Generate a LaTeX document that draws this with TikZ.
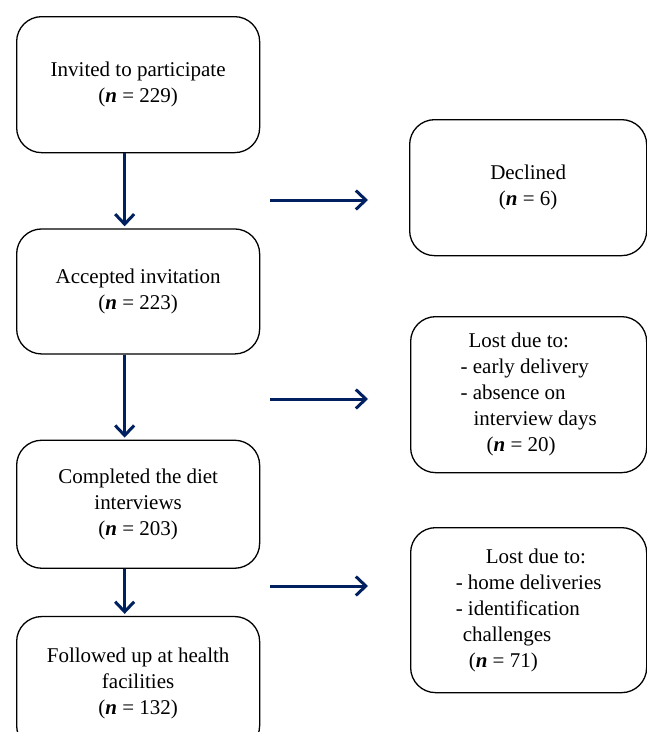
\documentclass[tikz,border=0pt]{standalone}
\usepackage{fontspec}
\setmainfont{Liberation Serif}
\usepackage{tikz}
\usetikzlibrary{positioning,arrows.meta}
\definecolor{mynavy}{RGB}{0, 32, 96}
\tikzstyle{stage}=[draw,rounded corners=25pt,line width=1.3pt,minimum width=243pt,inner sep=0pt,align=center]
\tikzstyle{lost}=[draw,rounded corners=25pt,line width=1.3pt,minimum width=236pt,inner sep=0pt,anchor=north west]
\newcommand{\nn}[1]{(\textbf{\textit{n}} = #1)}

\begin{document}
\begin{tikzpicture}[x=1pt,y=-1pt,font=\fontsize{21}{26}\selectfont]
\tikzstyle{flow}=[-{Straight Barb[length=10pt,width=19pt]},line width=3pt,mynavy]
\useasboundingbox (0,0) rectangle (647,732);
\node (A) [stage,anchor=north west,minimum height=136pt] at (16,16) {Invited to participate\\\nn{229}};
\node (B) [stage,below=75pt of A,minimum height=125pt] {Accepted invitation\\\nn{223}};
\node (C) [stage,below=85pt of B,minimum height=128pt] {Completed the diet\\interviews\\\nn{203}};
\node (D) [stage,below=47pt of C,minimum height=134pt] {Followed up at health\\facilities\\\nn{132}};

\node (E) [lost,align=center,minimum width=237pt,minimum height=136pt] at (409,119) {Declined\\\nn{6}};
\node (F) [lost,align=left,minimum height=156pt] at (410,316) {\hspace*{8pt}Lost due to:\\- early delivery\\- absence on\\\hspace*{13pt}interview days\\\hspace*{26pt}\nn{20}};
\node (G) [lost,align=left,minimum height=165pt] at (410,527) {\hspace*{30pt}Lost due to:\\- home deliveries\\- identification\\\hspace*{7pt}challenges\\\hspace*{13pt}\nn{71}};

\coordinate (E1) at (270,200);
\coordinate (E2) at (368,200);
\coordinate (F1) at (270,399);
\coordinate (F2) at (368,399);
\coordinate (G1) at (270,586);
\coordinate (G2) at (368,586);

\draw[flow] ([xshift=-13.5pt]A.south) -- ([xshift=-13.5pt,yshift=2pt]B.north);
\draw[flow] ([xshift=-13.5pt]B.south) -- ([xshift=-13.5pt,yshift=2pt]C.north);
\draw[flow] ([xshift=-13.5pt]C.south) -- ([xshift=-13.5pt,yshift=2pt]D.north);
\draw[flow] (E1) -- (E2);
\draw[flow] (F1) -- (F2);
\draw[flow] (G1) -- (G2);
\end{tikzpicture}
\end{document}
